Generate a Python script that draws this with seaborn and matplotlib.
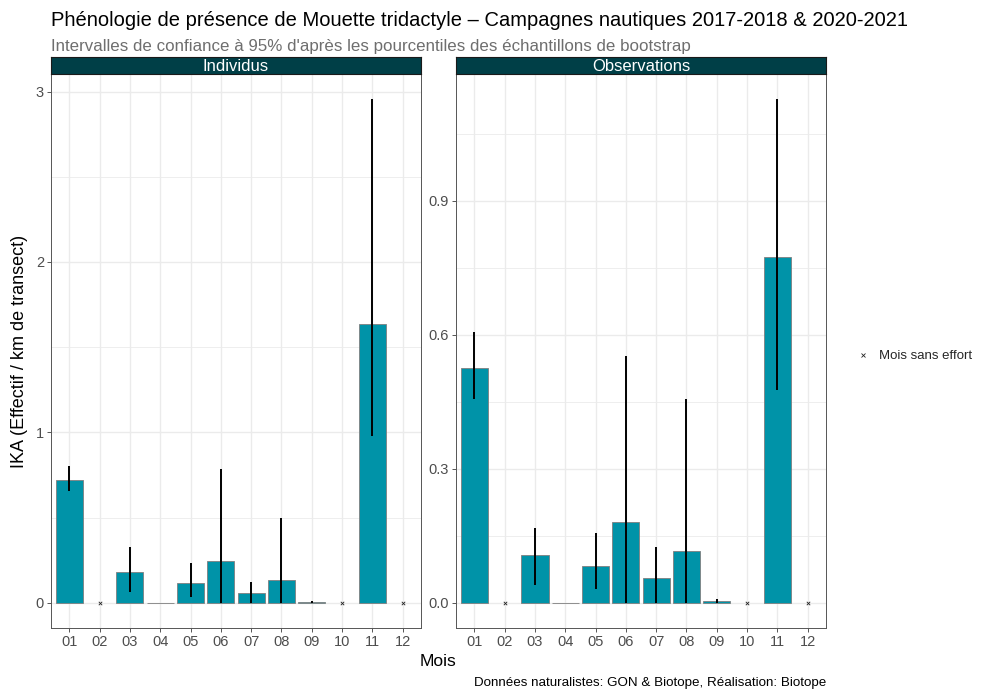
import numpy as np
import pandas as pd
import matplotlib
matplotlib.use("Agg")
import matplotlib.pyplot as plt
from matplotlib.lines import Line2D
from matplotlib.ticker import MultipleLocator
import seaborn as sns

months = ["01", "02", "03", "04", "05", "06", "07", "08", "09", "10", "11", "12"]
no_effort = ["02", "10", "12"]

ind = [0.722, np.nan, 0.180, 0.0, 0.116, 0.245, 0.055, 0.133, 0.004, np.nan, 1.638, np.nan]
ind_lo = [0.654, np.nan, 0.063, 0.0, 0.033, 0.0, 0.0, 0.0, 0.0, np.nan, 0.977, np.nan]
ind_hi = [0.800, np.nan, 0.327, 0.0, 0.235, 0.787, 0.122, 0.500, 0.010, np.nan, 2.955, np.nan]

obs = [0.526, np.nan, 0.107, 0.0, 0.082, 0.181, 0.056, 0.116, 0.003, np.nan, 0.774, np.nan]
obs_lo = [0.456, np.nan, 0.041, 0.0, 0.030, 0.0, 0.0, 0.0, 0.0, np.nan, 0.477, np.nan]
obs_hi = [0.607, np.nan, 0.167, 0.0, 0.156, 0.553, 0.124, 0.456, 0.008, np.nan, 1.128, np.nan]

panels = [
    ("Individus", ind, ind_lo, ind_hi, 1.0, 0.5),
    ("Observations", obs, obs_lo, obs_hi, 0.3, 0.15),
]

sns.set_style("white")
plt.rcParams["font.family"] = ["Liberation Sans", "DejaVu Sans"]

W, H = 987, 689
fig = plt.figure(figsize=(W / 100, H / 100), dpi=100)

BAR = "#0093A8"
STRIP = "#003F47"
GRID = "#EBEBEB"
TXT = "#4D4D4D"

panel_x = [51, 456]
panel_w = 370
top_px, bot_px = 74, 628
strip_top = 57

def fx(px):
    return px / W

def fy(py):
    return 1 - py / H

for (name, vals, lo, hi, major, minor), x0 in zip(panels, panel_x):
    ax = fig.add_axes([fx(x0), fy(bot_px), fx(panel_w), (bot_px - top_px) / H])
    df = pd.DataFrame({"Mois": months, "val": vals})
    sns.barplot(data=df, x="Mois", y="val", order=months, color=BAR, saturation=1,
                width=0.9, edgecolor="#7F7F7F", linewidth=0.6, errorbar=None, ax=ax, zorder=2)
    pos = {m: i for i, m in enumerate(months)}
    xs = [pos[m] for m, l in zip(months, lo) if not np.isnan(l)]
    los = [l for l in lo if not np.isnan(l)]
    his = [h for h in hi if not np.isnan(h)]
    ax.vlines(xs, los, his, color="black", linewidth=1.4, zorder=3)
    ax.scatter([pos[m] for m in no_effort], [0] * len(no_effort), marker="x",
               s=6, linewidths=0.6, color="#222222", zorder=3)
    ymax = np.nanmax(hi)
    ax.set_ylim(-0.05 * ymax, ymax * 1.05)
    ax.set_xlim(-0.6, len(months) - 0.4)
    ax.yaxis.set_major_locator(MultipleLocator(major))
    ax.yaxis.set_minor_locator(MultipleLocator(minor))
    ax.grid(True, which="major", color=GRID, linewidth=1.0, zorder=0)
    ax.grid(True, which="minor", axis="y", color=GRID, linewidth=0.6, zorder=0)
    ax.set_axisbelow(True)
    for s in ax.spines.values():
        s.set_color("#555555")
        s.set_linewidth(0.7)
        s.set_visible(True)
    ax.tick_params(axis="both", which="major", length=3, width=0.7, color="#555555",
                   labelsize=10.5, labelcolor=TXT, pad=2, direction="out",
                   bottom=True, left=True)
    ax.tick_params(axis="both", which="minor", length=0)
    if major == 1.0:
        ax.yaxis.set_major_formatter(matplotlib.ticker.FormatStrFormatter("%d"))
    else:
        ax.yaxis.set_major_formatter(matplotlib.ticker.FormatStrFormatter("%.1f"))
    ax.set_xlabel("")
    ax.set_ylabel("")
    # strip
    sax = fig.add_axes([fx(x0), fy(top_px), fx(panel_w), (top_px - strip_top) / H])
    sax.set_facecolor(STRIP)
    sax.set_xticks([])
    sax.set_yticks([])
    for s in sax.spines.values():
        s.set_color("#1A1A1A")
        s.set_linewidth(0.8)
    sax.text(0.5, 0.45, name, ha="center", va="center", color="white", fontsize=12,
             transform=sax.transAxes)

fig.text(fx(51), fy(20), "Phénologie de présence de Mouette tridactyle – Campagnes nautiques 2017-2018 & 2020-2021",
         ha="left", va="center", fontsize=14.5, color="black")
fig.text(fx(51), fy(46), "Intervalles de confiance à 95% d'après les pourcentiles des échantillons de bootstrap",
         ha="left", va="center", fontsize=12.2, color="#6E6E6E")
fig.text(fx(20), fy(351), "IKA (Effectif / km de transect)", rotation=90, ha="center", va="center",
         fontsize=13, color="black")
fig.text(fx(438), fy(662), "Mois", ha="center", va="center", fontsize=12.5, color="black")
fig.text(fx(826), fy(683), "Données naturalistes: GON & Biotope, Réalisation: Biotope", ha="right",
         va="center", fontsize=9.6, color="black")

handle = Line2D([], [], marker="x", linestyle="none", color="#222222", markersize=2.5,
                markeredgewidth=0.6)
fig.legend([handle], ["Mois sans effort"], loc="center left", bbox_to_anchor=(fx(843), fy(356)),
           frameon=False, fontsize=9.5, handletextpad=0.6, handlelength=1.2)

fig.savefig("out.png", dpi=100)
